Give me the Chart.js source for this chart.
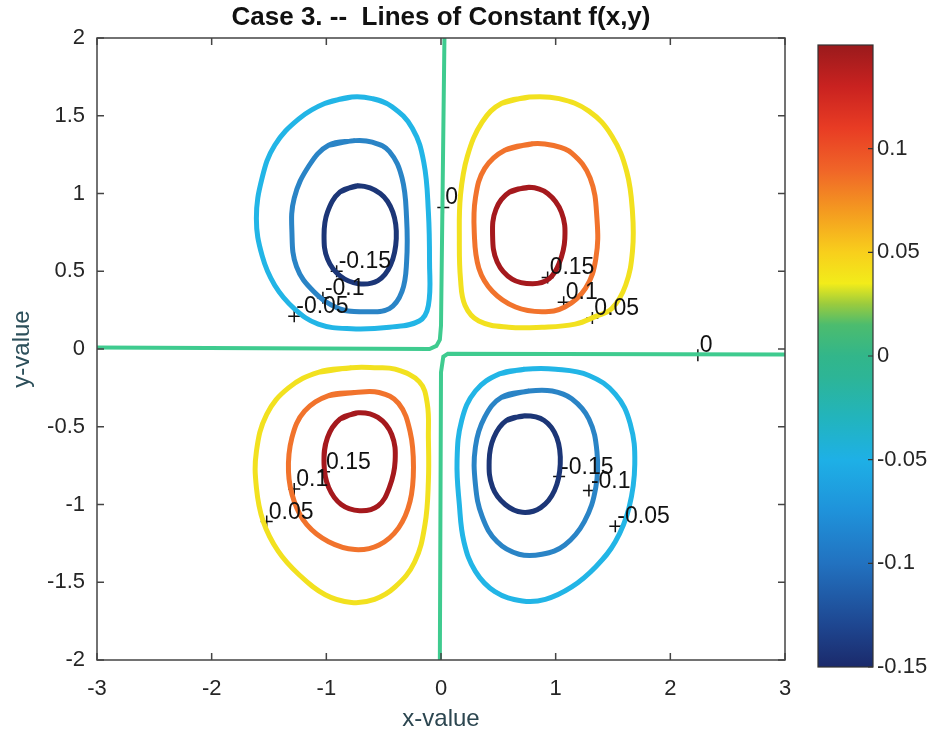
<!DOCTYPE html>
<html>
<head>
<meta charset="utf-8">
<script src="https://cdn.jsdelivr.net/npm/chart.js@4.4.1/dist/chart.umd.min.js"></script>
<style>
  html, body { margin: 0; padding: 0; background: #fff; }
  #wrap { position: relative; width: 929px; height: 738px; }
  #main { position: absolute; left: 0; top: 0; }
  #bar { position: absolute; left: 800px; top: 0; }
</style>
</head>
<body>
<div id="wrap">
  <canvas id="main" width="800" height="738"></canvas>
  <canvas id="bar" width="129" height="738"></canvas>
</div>
<script>
// axis ticks
const xTicks = [-3, -2, -1, 0, 1, 2, 3];
const yTicks = [-2, -1.5, -1, -0.5, 0, 0.5, 1, 1.5, 2];
const barTicks = [-0.15, -0.1, -0.05, 0, 0.05, 0.1];
const barMin = -0.15, barMax = 0.15;

// contour lines, [x, y]
// upper left quadrant (negative)
const nwM05 = [[-0.78,1.62],[-1.01,1.58],[-1.24,1.48],[-1.45,1.31],[-1.56,1.10],[-1.61,0.84],[-1.56,0.60],[-1.45,0.41],[-1.28,0.26],[-1.07,0.16],[-0.78,0.13],[-0.45,0.14],[-0.19,0.18],[-0.11,0.28],[-0.10,0.56],[-0.11,0.88],[-0.15,1.20],[-0.25,1.42],[-0.43,1.56],[-0.60,1.61]];
const nwM10 = [[-0.75,1.34],[-0.98,1.31],[-1.15,1.18],[-1.28,0.97],[-1.30,0.75],[-1.26,0.53],[-1.11,0.37],[-0.89,0.26],[-0.66,0.24],[-0.45,0.26],[-0.34,0.37],[-0.30,0.56],[-0.30,0.84],[-0.34,1.10],[-0.45,1.27],[-0.60,1.33]];
const nwM15 = [[-0.72,1.05],[-0.88,1.01],[-0.99,0.88],[-1.02,0.73],[-0.99,0.58],[-0.88,0.47],[-0.72,0.42],[-0.55,0.44],[-0.44,0.54],[-0.39,0.71],[-0.42,0.88],[-0.53,1.00]];
// upper right quadrant (positive)
const neP05 = [[0.77,1.62],[0.53,1.58],[0.36,1.46],[0.23,1.24],[0.17,0.99],[0.16,0.70],[0.17,0.45],[0.21,0.28],[0.33,0.18],[0.59,0.14],[0.88,0.14],[1.17,0.16],[1.35,0.21],[1.49,0.26],[1.61,0.41],[1.67,0.63],[1.67,0.88],[1.62,1.14],[1.49,1.37],[1.29,1.53],[1.03,1.61]];
const neP10 = [[0.80,1.32],[0.56,1.28],[0.38,1.16],[0.30,0.97],[0.29,0.75],[0.33,0.52],[0.45,0.37],[0.65,0.27],[0.88,0.24],[1.08,0.27],[1.26,0.39],[1.35,0.58],[1.36,0.84],[1.30,1.10],[1.14,1.26],[0.97,1.31]];
const neP15 = [[0.77,1.04],[0.60,1.01],[0.48,0.90],[0.45,0.73],[0.49,0.56],[0.62,0.45],[0.80,0.42],[0.94,0.45],[1.03,0.55],[1.08,0.71],[1.05,0.88],[0.93,1.00]];
// lower left quadrant (positive)
const swP05 = [[-0.78,-0.12],[-1.07,-0.15],[-1.33,-0.25],[-1.52,-0.42],[-1.61,-0.66],[-1.61,-0.89],[-1.55,-1.11],[-1.42,-1.30],[-1.24,-1.45],[-1.01,-1.58],[-0.78,-1.63],[-0.58,-1.61],[-0.40,-1.53],[-0.23,-1.37],[-0.14,-1.13],[-0.11,-0.85],[-0.11,-0.57],[-0.12,-0.35],[-0.19,-0.21],[-0.40,-0.13],[-0.58,-0.12]];
const swP10 = [[-0.75,-0.28],[-0.98,-0.30],[-1.19,-0.40],[-1.30,-0.57],[-1.33,-0.79],[-1.28,-0.98],[-1.17,-1.13],[-0.98,-1.24],[-0.75,-1.29],[-0.54,-1.26],[-0.37,-1.15],[-0.27,-0.98],[-0.24,-0.76],[-0.27,-0.53],[-0.37,-0.35],[-0.54,-0.28]];
const swP15 = [[-0.72,-0.41],[-0.88,-0.45],[-0.99,-0.57],[-1.02,-0.74],[-0.98,-0.89],[-0.87,-1.00],[-0.71,-1.04],[-0.55,-1.01],[-0.45,-0.89],[-0.40,-0.72],[-0.43,-0.55],[-0.55,-0.44]];
// lower right quadrant (negative)
const seM05 = [[0.73,-0.13],[0.51,-0.16],[0.30,-0.27],[0.18,-0.46],[0.14,-0.72],[0.16,-1.00],[0.20,-1.24],[0.30,-1.43],[0.47,-1.56],[0.71,-1.62],[0.91,-1.61],[1.14,-1.53],[1.35,-1.40],[1.52,-1.24],[1.64,-1.02],[1.69,-0.74],[1.65,-0.48],[1.52,-0.29],[1.29,-0.17],[1.00,-0.13]];
const seM10 = [[0.77,-0.27],[0.53,-0.31],[0.38,-0.44],[0.30,-0.63],[0.30,-0.87],[0.36,-1.08],[0.49,-1.24],[0.68,-1.32],[0.88,-1.32],[1.08,-1.26],[1.25,-1.11],[1.35,-0.89],[1.36,-0.66],[1.29,-0.45],[1.14,-0.32],[0.97,-0.27]];
const seM15 = [[0.73,-0.43],[0.57,-0.46],[0.46,-0.57],[0.42,-0.72],[0.45,-0.89],[0.56,-1.00],[0.71,-1.05],[0.87,-1.02],[0.99,-0.91],[1.04,-0.74],[1.01,-0.57],[0.90,-0.46]];
// zero level, two open pieces
const zeroNW = [[-3,0.01],[-0.1,0.0],[-0.04,0.02],[-0.01,0.06],[0.0,0.15],[0.03,2]];
const zeroSE = [[-0.01,-2],[0.0,-0.15],[0.02,-0.05],[0.06,-0.03],[3,-0.035]];

// contour labels (clabel)
const labelX = [-0.91, -1.03, -1.28, 0.93, 1.07, 1.32, -1.02, -1.28, -1.52, 1.03, 1.29, 1.52, 0.02, 2.24];
const labelY = [0.50, 0.33, 0.21, 0.46, 0.30, 0.20, -0.79, -0.90, -1.11, -0.82, -0.91, -1.14, 0.91, -0.04];
const labelText = ['-0.15', '-0.1', '-0.05', '0.15', '0.1', '0.05', '0.15', '0.1', '0.05', '-0.15', '-0.1', '-0.05', '0', '0'];

const levelColor = {
  '-0.15': '#1c3677',
  '-0.1': '#2a84c6',
  '-0.05': '#22b5e6',
  '0': '#3fcb8f',
  '0.05': '#f2e11f',
  '0.1': '#f1732c',
  '0.15': '#a5191d'
};

const loops = [
  [-0.05, nwM05], [-0.1, nwM10], [-0.15, nwM15],
  [0.05, neP05], [0.1, neP10], [0.15, neP15],
  [0.05, swP05], [0.1, swP10], [0.15, swP15],
  [-0.05, seM05], [-0.1, seM10], [-0.15, seM15]
];

const FONT = "'Liberation Sans', Arial, Helvetica, sans-serif";
const toXY = p => ({ x: p[0], y: p[1] });

const datasets = loops.map(([lev, pts]) => ({
  data: pts.concat([pts[0], pts[1]]).map(toXY),
  showLine: true,
  borderColor: levelColor[String(lev)],
  borderWidth: 5,
  pointRadius: 0,
  tension: 0.4,
  fill: false
}));
[zeroNW, zeroSE].forEach(pts => datasets.push({
  data: pts.map(toXY),
  showLine: true,
  borderColor: levelColor['0'],
  borderWidth: 4,
  pointRadius: 0,
  tension: 0,
  fill: false
}));
datasets.push({
  data: labelX.map((x, i) => ({ x: x, y: labelY[i] })),
  showLine: false,
  pointStyle: 'cross',
  pointRadius: 6,
  borderColor: '#111',
  backgroundColor: '#111',
  borderWidth: 1.5
});

const frame = {
  id: 'frame',
  afterDatasetsDraw(chart) {
    const { ctx, chartArea: a, scales } = chart;
    ctx.save();
    ctx.strokeStyle = '#444';
    ctx.lineWidth = 1.5;
    ctx.strokeRect(a.left, a.top, a.right - a.left, a.bottom - a.top);
    ctx.beginPath();
    xTicks.forEach(v => {
      const px = scales.x.getPixelForValue(v);
      ctx.moveTo(px, a.bottom); ctx.lineTo(px, a.bottom - 7);
      ctx.moveTo(px, a.top); ctx.lineTo(px, a.top + 7);
    });
    yTicks.forEach(v => {
      const py = scales.y.getPixelForValue(v);
      ctx.moveTo(a.left, py); ctx.lineTo(a.left + 7, py);
      ctx.moveTo(a.right, py); ctx.lineTo(a.right - 7, py);
    });
    ctx.stroke();

    // contour labels
    ctx.fillStyle = '#111';
    ctx.font = '23px ' + FONT;
    ctx.textAlign = 'left';
    ctx.textBaseline = 'alphabetic';
    labelText.forEach((t, i) => {
      const px = scales.x.getPixelForValue(labelX[i]);
      const py = scales.y.getPixelForValue(labelY[i]);
      ctx.fillText(t, px + 2, py - 3);
    });

    // title
    ctx.font = 'bold 26px ' + FONT;
    ctx.textAlign = 'center';
    ctx.textBaseline = 'middle';
    ctx.fillText('Case 3. --  Lines of Constant f(x,y)', (a.left + a.right) / 2, 18);
    ctx.restore();
  }
};

new Chart(document.getElementById('main'), {
  type: 'scatter',
  data: { datasets: datasets },
  options: {
    responsive: false,
    animation: false,
    layout: { padding: { left: 0, right: 15, top: 38, bottom: 0 } },
    plugins: { legend: { display: false }, tooltip: { enabled: false } },
    scales: {
      x: {
        type: 'linear', min: -3, max: 3,
        afterBuildTicks: s => { s.ticks = xTicks.map(v => ({ value: v })); },
        afterFit: s => { s.height = 78; s.paddingLeft = 0; s.paddingRight = 0; },
        grid: { display: false, drawTicks: false },
        border: { display: false },
        ticks: { font: { size: 22, family: FONT }, color: '#262626', padding: 16, maxRotation: 0, autoSkip: false, callback: v => String(v) },
        title: { display: true, text: 'x-value', font: { size: 24, family: FONT }, color: '#2c4650', padding: { top: 0, bottom: 4 } }
      },
      y: {
        type: 'linear', min: -2, max: 2,
        afterBuildTicks: s => { s.ticks = yTicks.map(v => ({ value: v })); },
        afterFit: s => { s.width = 97; s.paddingTop = 0; s.paddingBottom = 0; },
        grid: { display: false, drawTicks: false },
        border: { display: false },
        ticks: { font: { size: 22, family: FONT }, color: '#262626', padding: 12, autoSkip: false, callback: v => String(v) },
        title: { display: true, text: 'y-value', font: { size: 24, family: FONT }, color: '#2c4f5a', padding: { top: 8, bottom: 0 } }
      }
    }
  },
  plugins: [frame]
});

// colour bar
const jetStops = [
  [-0.15, '#1b2a6b'], [-0.13, '#1e4690'], [-0.10, '#2272c0'], [-0.075, '#1f92da'],
  [-0.05, '#1eb0e6'], [-0.03, '#22b4bd'], [-0.01, '#2db596'], [0, '#32b68a'],
  [0.015, '#4cbc6e'], [0.025, '#9acb3e'], [0.035, '#f2ec1a'], [0.05, '#f8cf1c'],
  [0.07, '#f49a20'], [0.09, '#f06428'], [0.11, '#e83c24'], [0.13, '#c92220'], [0.15, '#9a1a1c']
];

function barGradient(chart) {
  const a = chart.chartArea;
  if (!a) return '#32b68a';
  const g = chart.ctx.createLinearGradient(0, a.bottom, 0, a.top);
  jetStops.forEach(([v, c]) => g.addColorStop((v - barMin) / (barMax - barMin), c));
  return g;
}

const barFrame = {
  id: 'barFrame',
  afterDatasetsDraw(chart) {
    const { ctx, chartArea: a, scales } = chart;
    ctx.save();
    ctx.strokeStyle = '#333';
    ctx.lineWidth = 1.2;
    ctx.strokeRect(a.left, a.top, a.right - a.left, a.bottom - a.top);
    ctx.beginPath();
    barTicks.forEach(v => {
      const py = scales.y.getPixelForValue(v);
      ctx.moveTo(a.right, py); ctx.lineTo(a.right - 5, py);
    });
    ctx.stroke();
    ctx.restore();
  }
};

new Chart(document.getElementById('bar'), {
  type: 'bar',
  data: {
    labels: [''],
    datasets: [{
      data: [[barMin, barMax]],
      backgroundColor: c => barGradient(c.chart),
      borderWidth: 0,
      barPercentage: 1,
      categoryPercentage: 1
    }]
  },
  options: {
    responsive: false,
    animation: false,
    layout: { padding: { left: 18, top: 45, bottom: 71, right: 0 } },
    plugins: { legend: { display: false }, tooltip: { enabled: false } },
    scales: {
      x: { display: false },
      y: {
        position: 'right', min: barMin, max: barMax,
        afterBuildTicks: s => { s.ticks = barTicks.map(v => ({ value: v })); },
        afterFit: s => { s.width = 56; s.paddingTop = 0; s.paddingBottom = 0; },
        grid: { display: false, drawTicks: false },
        border: { display: false },
        ticks: { font: { size: 22, family: FONT }, color: '#262626', padding: 4, autoSkip: false, callback: v => String(v) }
      }
    }
  },
  plugins: [barFrame]
});
</script>
</body>
</html>
